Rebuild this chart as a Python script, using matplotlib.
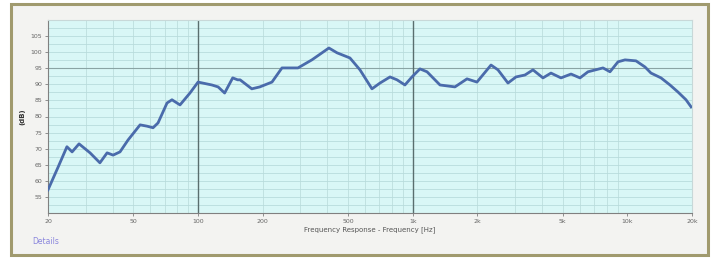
import numpy as np
import matplotlib.pyplot as plt
from matplotlib.patches import Rectangle
from matplotlib.ticker import FixedLocator, NullFormatter

# frequency response
freq = [20, 22.3, 24.5, 25.9, 27.9, 31.4, 34.9, 37.7, 40.2, 43.3, 47.2, 53.7, 57.8,
        61.7, 65.1, 71.7, 75.6, 82.4, 91.7, 100, 116, 124, 133, 145, 153, 157, 178,
        194, 221, 246, 292, 339, 378, 407, 444, 510, 568, 646, 704, 784, 845, 920,
        992, 1081, 1166, 1340, 1573, 1790, 1992, 2316, 2496, 2778, 3028, 3334,
        3632, 4044, 4406, 4906, 5464, 6016, 6554, 7698, 8300, 9044, 9748, 10966,
        12078, 12884, 14344, 15794, 17212, 18752, 19800]
level = [57.2, 64.3, 70.6, 69.0, 71.5, 68.7, 65.6, 68.7, 68.0, 69.0, 72.7, 77.4, 77.0,
         76.5, 78.0, 84.2, 85.2, 83.6, 87.3, 90.7, 89.8, 89.2, 87.3, 92.0, 91.4, 91.4,
         88.6, 89.2, 90.7, 95.1, 95.1, 97.6, 99.8, 101.3, 99.8, 98.2, 94.5, 88.6, 90.4,
         92.3, 91.4, 89.8, 92.3, 94.8, 93.9, 89.8, 89.2, 91.7, 90.7, 96.0, 94.5,
         90.4, 92.3, 92.9, 94.5, 92.0, 93.5, 92.0, 93.2, 92.0, 93.9, 95.1, 93.9,
         97.0, 97.6, 97.3, 95.4, 93.5, 92.0, 89.8, 87.6, 85.2, 83.0]

xticks = [20, 50, 100, 200, 500, 1000, 2000, 5000, 10000, 20000]
xlabels = ['20', '50', '100', '200', '500', '1k', '2k', '5k', '10k', '20k']
yticks = [55, 60, 65, 70, 75, 80, 85, 90, 95, 100, 105]

fig = plt.figure(figsize=(7.18, 2.58), dpi=100)
fig.patch.set_facecolor('white')

# outer frame
fig.patches.append(Rectangle((11/718, 3/258), 697/718, 251/258, transform=fig.transFigure,
                             facecolor='#f3f3f1', edgecolor='#a09a6e', lw=2.2, zorder=-10))

ax = fig.add_axes([48/718, 1-213/258, 644/718, 193/258])
ax.set_facecolor('#d9f7f6')
ax.set_xscale('log')
ax.set_xlim(20, 20000)
ax.set_ylim(50, 110)

minors = [m * d for d in [10, 100, 1000, 10000] for m in range(2, 10) if 20 <= m * d <= 20000]
for f in minors:
    ax.axvline(f, color='#bddede', lw=0.6, zorder=1)
for v in np.arange(52.5, 110, 2.5):
    ax.axhline(v, color='#b8dcdc', lw=0.6, zorder=1)
ax.axhline(95, color='#8aa4a4', lw=0.8, zorder=1)
ax.axvline(100, color='#5a6e6e', lw=1.0, zorder=2)
ax.axvline(1000, color='#5a6e6e', lw=1.0, zorder=2)

ax.plot(freq, level, color='#4a6bab', lw=2.0, zorder=3, solid_joinstyle='round')

ax.xaxis.set_major_locator(FixedLocator(xticks))
ax.xaxis.set_minor_formatter(NullFormatter())
ax.set_xticks(xticks)
ax.set_xticklabels(xlabels)
ax.set_yticks(yticks)
ax.tick_params(axis='both', labelsize=4.5, colors='#666666', length=2, width=0.5, pad=2)
ax.tick_params(which='minor', length=0)

for s in ['top', 'right']:
    ax.spines[s].set_color('#c8d8d8')
for s in ['left', 'bottom']:
    ax.spines[s].set_color('#808080')
    ax.spines[s].set_linewidth(0.8)

ax.set_xlabel('Frequency Response - Frequency [Hz]', fontsize=5, color='#555555', labelpad=2)
ax.set_ylabel('(dB)', fontsize=5, color='#333333', fontweight='bold', labelpad=4)

fig.text(32/718, 1-242/258, 'Details', fontsize=5.5, color='#8a86dd', va='center')

fig.savefig('out.png', dpi=100)
